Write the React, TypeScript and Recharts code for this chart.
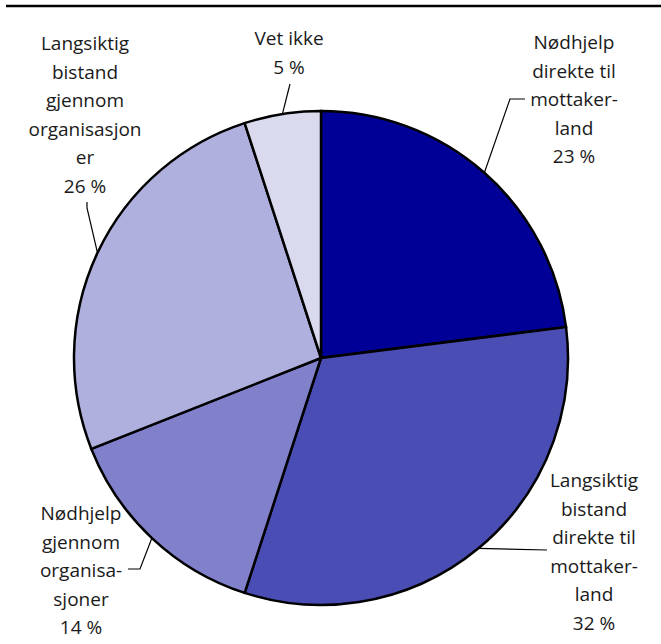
import React from "react";
import { PieChart, Pie, Cell } from "recharts";

// Andel per kategori (prosent)
const categories = [
    "Nødhjelp direkte til mottakerland",
    "Langsiktig bistand direkte til mottakerland",
    "Nødhjelp gjennom organisasjoner",
    "Langsiktig bistand gjennom organisasjoner",
    "Vet ikke",
];
const shares = [23, 32, 14, 26, 5];
const labelLines = [
    ["Nødhjelp", "direkte til", "mottaker-", "land"],
    ["Langsiktig", "bistand", "direkte til", "mottaker-", "land"],
    ["Nødhjelp", "gjennom", "organisa-", "sjoner"],
    ["Langsiktig", "bistand", "gjennom", "organisasjon", "er"],
    ["Vet ikke"],
];

const colors = ["#000096", "#4a4db3", "#8080cb", "#b0b0df", "#dadaee"];

const data = categories.map((name, i) => ({ name, value: shares[i] }));

// where each label sits, and the bend of its leader line
const labelLayout = [
    { elbow: [510, 99], end: [525, 99], x: 574, y: 49 },
    { elbow: null, end: [547, 550], x: 594, y: 487 },
    { elbow: [140, 569], end: [128, 569], x: 81, y: 520 },
    { elbow: [87, 208], end: [87, 202], x: 85, y: 50 },
    { elbow: null, end: [290, 84], x: 289, y: 45 },
];

const LINE_H = 28.6;
const RAD = Math.PI / 180;

const renderLabel = (props: any) => {
    const { cx, cy, midAngle, outerRadius, index, value } = props;
    const lay = labelLayout[index];
    const sx = cx + outerRadius * Math.cos(-midAngle * RAD);
    const sy = cy + outerRadius * Math.sin(-midAngle * RAD);
    const pts = [[sx, sy]];
    if (lay.elbow) pts.push(lay.elbow);
    pts.push(lay.end);
    const lines = [...labelLines[index], `${value} %`];
    return (
        <g key={`lbl-${index}`}>
            <polyline
                points={pts.map((p) => p.join(",")).join(" ")}
                fill="none"
                stroke="#000"
                strokeWidth={1.2}
            />
            <text
                x={lay.x}
                y={lay.y}
                textAnchor="middle"
                fontFamily="'Open Sans', sans-serif"
                fontSize={19}
                fill="#1a1a1a"
            >
                {lines.map((t, i) => (
                    <tspan key={i} x={lay.x} y={lay.y + i * LINE_H}>
                        {t}
                    </tspan>
                ))}
            </text>
        </g>
    );
};

const App = () => {
    return (
        <div style={{ position: "fixed", left: 0, top: 0, width: 661, height: 644, background: "#fff" }}>
            <PieChart width={661} height={644} margin={{ top: 0, right: 0, bottom: 0, left: 0 }}>
                <line x1={6} y1={6} x2={661} y2={6} stroke="#000" strokeWidth={2.5} />
                <Pie
                    data={data}
                    dataKey="value"
                    nameKey="name"
                    cx={321}
                    cy={358}
                    outerRadius={247}
                    startAngle={90}
                    endAngle={-270}
                    stroke="#000"
                    strokeWidth={2.5}
                    label={renderLabel}
                    labelLine={false}
                    isAnimationActive={false}
                >
                    {data.map((d, i) => (
                        <Cell key={d.name} fill={colors[i]} />
                    ))}
                </Pie>
            </PieChart>
        </div>
    );
};

export default App;
